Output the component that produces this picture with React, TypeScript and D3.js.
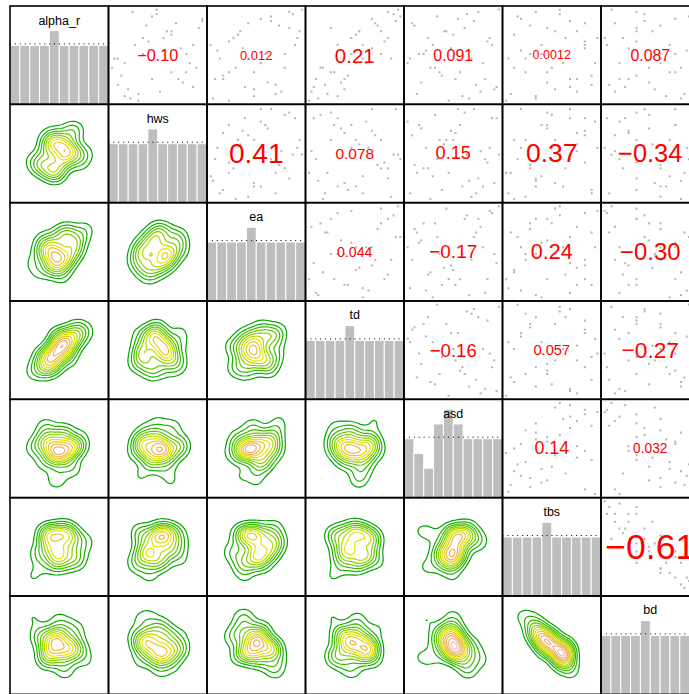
import React from "react";
import * as d3 from "d3";

// ---------------- data ----------------
const varNames = ["alpha_r", "hws", "ea", "td", "asd", "tbs", "bd"];

const alpha_r = [52, 47, 61, 38, 55, 44, 49, 66, 41, 57, 50, 35, 59, 46, 53, 63, 42, 48, 56, 39, 51, 70, 45, 58, 43, 54, 31, 60, 49, 47, 65, 40, 53, 57, 44, 50, 37, 62, 48, 55, 46];
const hws = [57, 32, 68, 44, 52, 56, 36, 42, 62, 53, 45, 41, 46, 59, 62, 49, 36, 61, 54, 51, 52, 50, 37, 67, 58, 47, 44, 55, 35, 66, 50, 40, 43, 54, 49, 59, 38, 68, 38, 45, 54];
const ea = [46, 43, 55, 56, 67, 40, 37, 63, 47, 45, 62, 33, 57, 41, 65, 55, 56, 51, 44, 61, 36, 70, 40, 63, 54, 41, 41, 49, 49, 62, 64, 50, 29, 68, 34, 52, 50, 51, 51, 42, 50];
const td = [55, 40, 63, 42, 49, 47, 52, 60, 36, 51, 58, 38, 57, 44, 45, 66, 41, 53, 50, 35, 54, 64, 48, 43, 46, 59, 34, 56, 61, 39, 62, 47, 52, 58, 37, 49, 45, 55, 50, 60, 43];
const asd = [50.2, 48.1, 52.3, 45.0, 55.4, 50.6, 40.2, 53.1, 58.3, 49.8, 47.2, 51.9, 44.1, 50.9, 56.2, 49.1, 52.6, 38.5, 50.4, 53.5, 47.6, 60.1, 49.5, 51.2, 46.3, 55.0, 50.0, 42.4, 52.0, 48.7, 51.5, 57.0, 48.3, 49.9, 54.1, 45.6, 51.0, 50.7, 53.8, 47.9, 49.3];
const tbs = [60, 38, 58, 36, 65, 59, 35, 45, 58, 59, 44, 45, 44, 49, 60, 39, 61, 62, 38, 59, 40, 54, 61, 49, 49, 60, 28, 60, 43, 50, 54, 52, 47, 52, 58, 47, 45, 40, 55, 56, 43];
const bd = [44, 59, 47, 61, 28, 44, 72, 46, 43, 50, 52, 59, 52, 58, 32, 64, 36, 40, 67, 39, 62, 37, 46, 46, 49, 46, 74, 39, 52, 49, 47, 51, 56, 46, 40, 58, 54, 58, 52, 41, 56];

// histogram counts (10 bins) on the diagonal
const alpha_rHist = [4, 4, 4, 4, 5, 4, 4, 4, 4, 4];
const hwsHist = [4, 4, 4, 4, 5, 4, 4, 4, 4, 4];
const eaHist = [4, 4, 4, 4, 5, 4, 4, 4, 4, 4];
const tdHist = [4, 4, 4, 4, 5, 4, 4, 4, 4, 4];
const asdHist = [4, 3, 2, 5, 6, 5, 4, 4, 4, 4];
const tbsHist = [4, 4, 4, 4, 5, 4, 4, 4, 4, 4];
const bdHist = [4, 4, 4, 4, 5, 4, 4, 4, 4, 4];

// correlations, upper triangle row by row
const corrUpper = [
  -0.10, 0.012, 0.21, 0.091, 0.0012, 0.087,
  0.41, 0.078, 0.15, 0.37, -0.34,
  0.044, -0.17, 0.24, -0.30,
  -0.16, 0.057, -0.27,
  0.14, 0.032,
  -0.61,
];

// ---------------- helpers ----------------
function hsv(h: number, s: number, v: number): string {
  const i = Math.floor(h * 6);
  const f = h * 6 - i;
  const p = v * (1 - s), q = v * (1 - f * s), t = v * (1 - (1 - f) * s);
  let r = 0, g = 0, b = 0;
  switch (((i % 6) + 6) % 6) {
    case 0: r = v; g = t; b = p; break;
    case 1: r = q; g = v; b = p; break;
    case 2: r = p; g = v; b = t; break;
    case 3: r = p; g = q; b = v; break;
    case 4: r = t; g = p; b = v; break;
    default: r = v; g = p; b = q;
  }
  return d3.rgb(r * 255, g * 255, b * 255).formatHex();
}

function terrainColors(n: number): string[] {
  const k = Math.floor(n / 2);
  const seq = (a: number, b: number, len: number) =>
    len === 1 ? [a] : d3.range(len).map((i) => a + ((b - a) * i) / (len - 1));
  const out: string[] = [];
  const h1 = seq(4 / 12, 2 / 12, k), v1 = seq(0.65, 0.9, k);
  for (let i = 0; i < k; i++) out.push(hsv(h1[i], 1, v1[i]));
  const m = n - k + 1;
  const h2 = seq(2 / 12, 0, m), s2 = seq(1, 0, m), v2 = seq(0.9, 0.95, m);
  for (let i = 1; i < m; i++) out.push(hsv(h2[i], s2[i], v2[i]));
  return out;
}

function rankAvg(arr: number[]): number[] {
  const idx = arr.map((v, i) => i).sort((a, b) => arr[a] - arr[b]);
  const ranks = new Array(arr.length).fill(0);
  let i = 0;
  while (i < idx.length) {
    let j = i;
    while (j + 1 < idx.length && arr[idx[j + 1]] === arr[idx[i]]) j++;
    const r = (i + j) / 2 + 1;
    for (let k = i; k <= j; k++) ranks[idx[k]] = r;
    i = j + 1;
  }
  return ranks;
}

// ---------------- layout ----------------
const W = 689, H = 694;
const X0 = 10, Y0 = 6, PW = 98.5, PH = 98.33;
const PAL_N = 14;
const STEP = 0.0034;
const BW = 6;
const KSD = 4.0;
const FONT = "'Liberation Sans', Arial, Helvetica, sans-serif";

export default function App() {
  const vars = [alpha_r, hws, ea, td, asd, tbs, bd];
  const hists = [alpha_rHist, hwsHist, eaHist, tdHist, asdHist, tbsHist, bdHist];
  const ranks = vars.map(rankAvg);
  const n = alpha_r.length;
  const pal = terrainColors(PAL_N);
  const thresholds = d3.range(1, 40).map((i) => i * STEP);
  const fmt = d3.format(".2r");
  const path = d3.geoPath();

  const corrAt = (r: number, c: number) => {
    let k = 0;
    for (let i = 0; i < r; i++) k += 6 - i;
    return corrUpper[k + (c - r - 1)];
  };

  const contourScale = (v: number[], range: [number, number]) => {
    const m = d3.mean(v) as number;
    const s = d3.deviation(v) as number;
    return d3.scaleLinear().domain([m - KSD * s, m + KSD * s]).range(range);
  };

  const panels: React.ReactNode[] = [];
  for (let r = 0; r < 7; r++) {
    for (let c = 0; c < 7; c++) {
      const x0 = X0 + c * PW;
      const y0 = Y0 + r * PH;
      const key = `p${r}-${c}`;
      let content: React.ReactNode = null;
      if (r === c) {
        const counts = hists[r];
        const hx = d3.scaleLinear().domain([0, counts.length]).range([0, PW]);
        const hy = d3.scaleLinear().domain([0, 6.67]).range([PH, 0]);
        const meanCount = d3.sum(counts) / counts.length;
        content = (
          <g>
            {counts.map((cnt, i) => (
              <rect key={i} x={hx(i)} y={hy(cnt)} width={hx(i + 1) - hx(i)} height={PH - hy(cnt)}
                fill="#BEBEBE" stroke="#ffffff" strokeWidth={1} />
            ))}
            <line x1={0} x2={PW} y1={hy(meanCount)} y2={hy(meanCount)} stroke="#000" strokeWidth={1}
              strokeDasharray="1,3.9" />
            <text x={PW / 2} y={18.5} textAnchor="middle" fontFamily={FONT} fontSize={12.5} fill="#000">
              {varNames[r]}
            </text>
          </g>
        );
      } else if (c > r) {
        const sx = d3.scaleLinear().domain([1 - 0.04 * (n - 1), n + 0.04 * (n - 1)]).range([0, PW]);
        const sy = d3.scaleLinear().domain([1 - 0.04 * (n - 1), n + 0.04 * (n - 1)]).range([PH, 0]);
        const rv = corrAt(r, c);
        const fs = 12.5 + 38 * Math.abs(rv);
        content = (
          <g>
            {ranks[c].map((xv, i) => (
              <rect key={i} x={sx(xv) - 1} y={sy(ranks[r][i]) - 1} width={2} height={2} fill="#b4b4b4" />
            ))}
            <text x={PW / 2} y={PH / 2} textAnchor="middle" dominantBaseline="central" fontFamily={FONT}
              fontSize={fs} fill="#ff0000">
              {fmt(rv)}
            </text>
          </g>
        );
      } else {
        const cx = contourScale(vars[c], [0, PW]);
        const cy = contourScale(vars[r], [PH, 0]);
        const gen = d3
          .contourDensity<number>()
          .x((i) => cx(vars[c][i]))
          .y((i) => cy(vars[r][i]))
          .size([Math.ceil(PW), Math.ceil(PH)])
          .cellSize(2)
          .bandwidth(BW)
          .thresholds(thresholds);
        const cs = gen(d3.range(n));
        content = (
          <g>
            {cs.map((ct, i) =>
              ct.coordinates.length ? (
                <path key={i} d={path(ct as any) || ""} fill="none"
                  stroke={pal[Math.min(i, PAL_N - 1)]} strokeWidth={1.2} />
              ) : null
            )}
          </g>
        );
      }
      panels.push(
        <g key={key} transform={`translate(${x0},${y0})`}>
          <clipPath id={`clip-${key}`}>
            <rect x={0} y={0} width={PW} height={PH} />
          </clipPath>
          <g clipPath={`url(#clip-${key})`}>{content}</g>
        </g>
      );
    }
  }

  const borders: React.ReactNode[] = [];
  for (let r = 0; r < 7; r++) {
    for (let c = 0; c < 7; c++) {
      borders.push(
        <rect key={`b${r}-${c}`} x={X0 + c * PW} y={Y0 + r * PH} width={PW} height={PH}
          fill="none" stroke="#000" strokeWidth={1.6} />
      );
    }
  }

  return (
    <svg width={W} height={H} style={{ position: "fixed", left: 0, top: 0, background: "#fff" }}>
      <rect x={0} y={0} width={W} height={H} fill="#fff" />
      {panels}
      {borders}
    </svg>
  );
}
